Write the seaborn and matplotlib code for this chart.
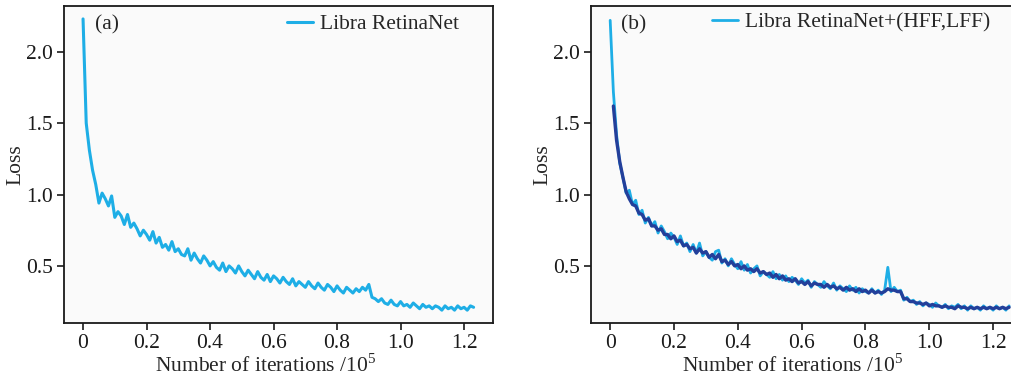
import numpy as np
import matplotlib
matplotlib.use("Agg")
import matplotlib.pyplot as plt
import seaborn as sns

# Curvas de pérdida leídas a mano de la figura (paso de 0.01 x 10^5 iteraciones)
loss_a = [2.23, 1.50, 1.31, 1.17, 1.07, 0.94, 1.01, 0.97, 0.92, 0.99,
          0.84, 0.88, 0.85, 0.79, 0.86, 0.77, 0.80, 0.76, 0.71, 0.75,
          0.72, 0.68, 0.74, 0.66, 0.70, 0.63, 0.65, 0.61, 0.67, 0.60,
          0.62, 0.58, 0.57, 0.62, 0.54, 0.59, 0.55, 0.52, 0.57, 0.54,
          0.50, 0.53, 0.49, 0.47, 0.52, 0.46, 0.50, 0.48, 0.45, 0.50,
          0.46, 0.43, 0.47, 0.44, 0.41, 0.46, 0.42, 0.40, 0.44, 0.39,
          0.43, 0.41, 0.38, 0.42, 0.39, 0.37, 0.41, 0.36, 0.39, 0.37,
          0.35, 0.39, 0.36, 0.34, 0.38, 0.35, 0.33, 0.37, 0.35, 0.32,
          0.36, 0.33, 0.31, 0.35, 0.33, 0.31, 0.34, 0.32, 0.35, 0.33,
          0.37, 0.28, 0.27, 0.25, 0.27, 0.24, 0.23, 0.26, 0.23, 0.22,
          0.25, 0.22, 0.23, 0.21, 0.24, 0.22, 0.20, 0.23, 0.21, 0.22,
          0.20, 0.22, 0.21, 0.19, 0.22, 0.20, 0.21, 0.19, 0.22, 0.20,
          0.21, 0.19, 0.22, 0.21]

loss_b_light = [2.22, 1.72, 1.42, 1.22, 1.12, 1.01, 1.03, 0.93, 0.96, 0.86,
                0.89, 0.80, 0.84, 0.78, 0.81, 0.73, 0.78, 0.74, 0.69, 0.73,
                0.70, 0.65, 0.71, 0.64, 0.66, 0.60, 0.65, 0.59, 0.66, 0.57,
                0.60, 0.56, 0.54, 0.60, 0.61, 0.52, 0.55, 0.50, 0.55, 0.51,
                0.48, 0.53, 0.47, 0.51, 0.45, 0.48, 0.50, 0.43, 0.46, 0.44,
                0.42, 0.46, 0.41, 0.44, 0.40, 0.43, 0.39, 0.42, 0.40, 0.37,
                0.41, 0.38, 0.40, 0.35, 0.39, 0.37, 0.35, 0.39, 0.36, 0.34,
                0.38, 0.33, 0.36, 0.34, 0.32, 0.36, 0.33, 0.35, 0.31, 0.34,
                0.32, 0.31, 0.34, 0.31, 0.33, 0.30, 0.33, 0.49, 0.32, 0.35,
                0.32, 0.33, 0.26, 0.28, 0.25, 0.26, 0.23, 0.25, 0.22, 0.24,
                0.23, 0.21, 0.24, 0.22, 0.21, 0.23, 0.20, 0.22, 0.21, 0.23,
                0.20, 0.22, 0.19, 0.22, 0.20, 0.21, 0.19, 0.22, 0.20, 0.21,
                0.19, 0.22, 0.20, 0.21, 0.19, 0.22]

loss_b_dark = [1.62, 1.38, 1.23, 1.12, 1.02, 0.97, 0.93, 0.92, 0.87,
               0.86, 0.82, 0.83, 0.78, 0.78, 0.75, 0.76, 0.72, 0.72, 0.69,
               0.71, 0.67, 0.68, 0.64, 0.65, 0.62, 0.63, 0.59, 0.62, 0.59,
               0.60, 0.56, 0.58, 0.55, 0.58, 0.53, 0.54, 0.51, 0.53, 0.50,
               0.51, 0.48, 0.50, 0.47, 0.48, 0.46, 0.48, 0.45, 0.46, 0.44,
               0.45, 0.42, 0.44, 0.41, 0.43, 0.40, 0.41, 0.39, 0.41, 0.38,
               0.39, 0.37, 0.39, 0.36, 0.38, 0.37, 0.37, 0.35, 0.37, 0.35,
               0.36, 0.34, 0.35, 0.33, 0.35, 0.33, 0.34, 0.32, 0.34, 0.32,
               0.33, 0.31, 0.33, 0.31, 0.32, 0.31, 0.32, 0.34, 0.33, 0.33,
               0.32, 0.32, 0.27, 0.27, 0.25, 0.25, 0.24, 0.24, 0.23, 0.24,
               0.22, 0.23, 0.22, 0.22, 0.21, 0.22, 0.21, 0.21, 0.20, 0.22,
               0.21, 0.21, 0.20, 0.21, 0.20, 0.21, 0.20, 0.21, 0.20, 0.21,
               0.20, 0.21, 0.20, 0.21, 0.20, 0.21]

iter_a = np.arange(len(loss_a)) * 0.01
iter_b = np.arange(len(loss_b_light)) * 0.01
iter_b_dark = (np.arange(len(loss_b_dark)) + 1) * 0.01

x_ticks = [0, 0.2, 0.4, 0.6, 0.8, 1.0, 1.2]
x_labels = ["0", "0.2", "0.4", "0.6", "0.8", "1.0", "1.2"]
y_ticks = [0.5, 1.0, 1.5, 2.0]

light_blue = "#1eaee6"
dark_blue = "#233f9a"
fs = 15.5

sns.set_style("ticks")
plt.rcParams["font.family"] = ["Liberation Serif", "DejaVu Serif"]
plt.rcParams["mathtext.fontset"] = "custom"
plt.rcParams["mathtext.rm"] = "Liberation Serif"

fig = plt.figure(figsize=(10.11, 3.8), dpi=100)
ax_a = fig.add_axes([0.0633, 0.15, 0.4243, 0.834])
ax_b = fig.add_axes([0.5846, 0.15, 0.4154, 0.834])

sns.lineplot(x=iter_a, y=loss_a, ax=ax_a, color=light_blue, linewidth=2.2,
             label="Libra RetinaNet")
sns.lineplot(x=iter_b, y=loss_b_light, ax=ax_b, color=light_blue, linewidth=2.0,
             label="Libra RetinaNet+(HFF,LFF)")
sns.lineplot(x=iter_b_dark, y=loss_b_dark, ax=ax_b, color=dark_blue, linewidth=2.4)

for ax, tag, xmax, xl in [(ax_a, "(a)", 1.291, 0.471), (ax_b, "(b)", 1.256, 0.481)]:
    ax.set_facecolor("#fafafa")
    ax.set_xlim(-0.06, xmax)
    ax.set_ylim(0.10, 2.32)
    ax.set_xticks(x_ticks)
    ax.set_xticklabels(x_labels)
    ax.set_yticks(y_ticks)
    ax.tick_params(direction="out", length=5, width=1.2, labelsize=fs,
                   colors="#1a1a1a", pad=3)
    for s in ax.spines.values():
        s.set_linewidth(1.3)
        s.set_color("#1a1a1a")
    ax.set_xlabel(r"Number of iterations /10$^5$", fontsize=fs)
    ax.set_ylabel("Loss", fontsize=fs)
    ax.xaxis.set_label_coords(xl, -0.098)
    ax.yaxis.set_label_coords(-0.091, 0.5)
    ax.text(0.072, 0.94, tag, transform=ax.transAxes, fontsize=fs, va="center")

ax_b.spines["right"].set_visible(False)

ax_a.legend(loc="upper left", bbox_to_anchor=(0.52, 0.975), frameon=False,
            fontsize=fs, handlelength=1.2, handletextpad=0.35, borderpad=0,
            borderaxespad=0)
ax_b.legend(loc="upper left", bbox_to_anchor=(0.288, 0.98), frameon=False,
            fontsize=fs, handlelength=1.2, handletextpad=0.35, borderpad=0,
            borderaxespad=0)

fig.savefig("out.png", dpi=100)
